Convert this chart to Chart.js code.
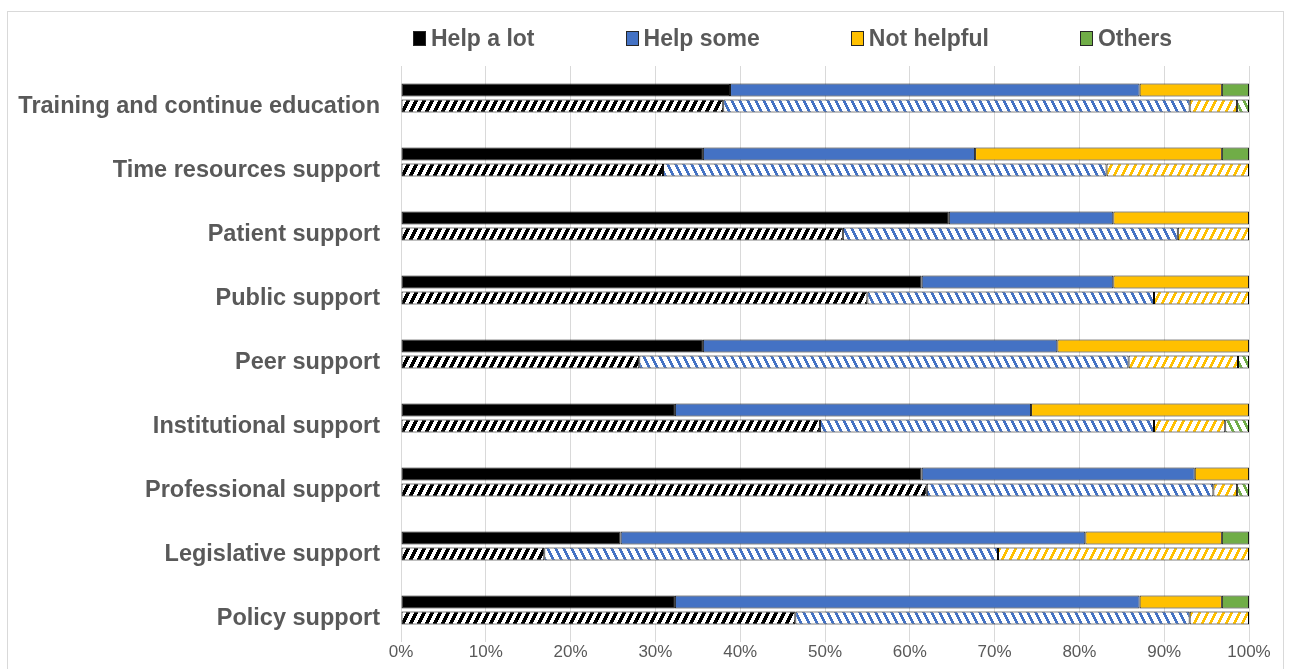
<!DOCTYPE html>
<html>
<head>
<meta charset="utf-8">
<script src="https://cdn.jsdelivr.net/npm/chart.js@4.4.0/dist/chart.umd.min.js"></script>
<style>
  html, body { margin: 0; padding: 0; background: #fff; }
  #wrap { position: relative; width: 1290px; height: 669px; }
  #legend {
    position: absolute; left: 413px; top: 25px;
    display: flex; align-items: center;
    font: bold 23px "Liberation Sans", Arial, sans-serif; color: #595959;
  }
  #legend .item { display: flex; align-items: center; margin-right: 91px; }
  #legend .box { width: 11px; height: 13px; border: 1px solid #262626; margin-right: 5px; }
</style>
</head>
<body>
<div id="wrap">
  <canvas id="chart" width="1290" height="669"></canvas>
  <div id="legend"></div>
</div>
<script>
const categories = [
  'Training and continue education', 'Time resources support', 'Patient support',
  'Public support', 'Peer support', 'Institutional support',
  'Professional support', 'Legislative support', 'Policy support'
];
const seriesNames = ['Help a lot', 'Help some', 'Not helpful', 'Others'];

// top (solid) bar of each pair, %
const helpALot   = [38.8, 35.6, 64.6, 61.4, 35.6, 32.3, 61.4, 25.9, 32.3];
const helpSome   = [48.3, 32.1, 19.4, 22.6, 41.8, 42.0, 32.2, 54.8, 54.8];
const notHelpful = [9.7, 29.1, 16.0, 16.0, 22.6, 25.7, 6.4, 16.1, 9.7];
const others     = [3.2, 3.2, 0, 0, 0, 0, 0, 3.2, 3.2];

// bottom (hatched) bar of each pair, %
const helpALotB   = [38.0, 30.9, 52.1, 55.0, 28.1, 49.4, 62.0, 16.9, 46.5];
const helpSomeB   = [55.0, 52.3, 39.5, 33.8, 57.7, 39.4, 33.8, 53.5, 46.5];
const notHelpfulB = [5.6, 16.8, 8.4, 11.2, 12.9, 8.4, 2.8, 29.6, 7.0];
const othersB     = [1.4, 0, 0, 0, 1.3, 2.8, 1.4, 0, 0];

const tickValues = [0, 10, 20, 30, 40, 50, 60, 70, 80, 90, 100];

const colors = ['#000000', '#4472C4', '#FFC000', '#70AD47'];
const hatchDir = ['/', '\\', '/', '\\'];
const hatchWidth = [8, 6, 6, 6];

function hatch(color, dir, w) {
  const c = document.createElement('canvas');
  c.width = 8; c.height = 16;
  const g = c.getContext('2d');
  g.fillStyle = '#fff';
  g.fillRect(0, 0, 8, 16);
  g.fillStyle = color;
  for (let y = 0; y < 16; y++) {
    for (let x = 0; x < 8; x++) {
      const k = dir === '/' ? (2 * x + y) % 16 : ((2 * x - y) % 16 + 16) % 16;
      if (k < w) g.fillRect(x, y, 1, 1);
    }
  }
  return g.createPattern(c, 'repeat');
}

const solidData = [helpALot, helpSome, notHelpful, others];
const hatchData = [helpALotB, helpSomeB, notHelpfulB, othersB];

const datasets = [];
solidData.forEach((d, i) => {
  datasets.push({
    label: seriesNames[i], data: d, stack: 'solid',
    backgroundColor: colors[i], borderColor: '#1a1a1a', borderWidth: 1, borderSkipped: false
  });
});
hatchData.forEach((d, i) => {
  datasets.push({
    label: seriesNames[i] + ' ', data: d, stack: 'hatch',
    backgroundColor: hatch(colors[i], hatchDir[i], hatchWidth[i]),
    borderColor: '#000', borderWidth: 1, borderSkipped: false
  });
});

// html legend
const legendDiv = document.getElementById('legend');
seriesNames.forEach((name, i) => {
  const item = document.createElement('div');
  item.className = 'item';
  item.innerHTML = `<span class="box" style="background:${colors[i]}"></span><span>${name}</span>`;
  legendDiv.appendChild(item);
});

const frame = {
  id: 'frame',
  beforeDraw(chart) {
    const ctx = chart.ctx;
    ctx.save();
    ctx.strokeStyle = '#d9d9d9';
    ctx.lineWidth = 1;
    ctx.strokeRect(7.5, 11.5, 1276, 680);
    ctx.restore();
  }
};

new Chart(document.getElementById('chart'), {
  type: 'bar',
  data: { labels: categories, datasets: datasets },
  options: {
    indexAxis: 'y',
    responsive: false,
    animation: false,
    categoryPercentage: 0.5,
    barPercentage: 0.81,
    layout: { padding: { top: 66, right: 41, bottom: 0, left: 0 } },
    scales: {
      x: {
        stacked: true, min: 0, max: 100,
        afterBuildTicks: (scale) => { scale.ticks = tickValues.map(v => ({ value: v })); },
        afterFit: (scale) => { scale.height = 26; },
        ticks: {
          padding: 0,
          callback: (v) => v + '%',
          color: '#595959',
          font: { family: '"Liberation Sans", Arial, sans-serif', size: 17 }
        },
        grid: { color: '#d9d9d9', drawTicks: false },
        border: { display: false }
      },
      y: {
        stacked: true,
        afterFit: (scale) => { scale.width = 401; },
        ticks: {
          padding: 13,
          labelOffset: 9,
          color: '#595959',
          font: { family: '"Liberation Sans", Arial, sans-serif', size: 23.5, weight: 'bold' }
        },
        grid: { display: false },
        border: { display: false }
      }
    },
    plugins: {
      legend: { display: false },
      tooltip: { enabled: false }
    }
  },
  plugins: [frame]
});
</script>
</body>
</html>
